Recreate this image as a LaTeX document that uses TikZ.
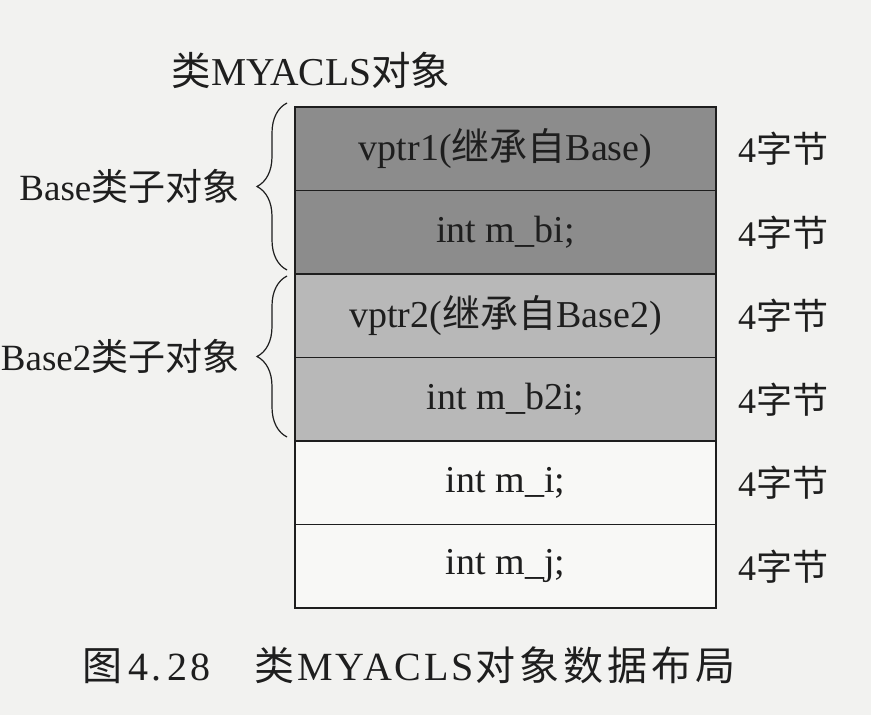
\documentclass[tikz,border=0pt]{standalone}
\usepackage{fontspec}
\setmainfont{Liberation Serif}
\newfontfamily\cjk{Noto Sans CJK SC}
\newfontfamily\capfont{Liberation Serif}[LetterSpace=7]
\newfontfamily\capcjk{Noto Sans CJK SC}[LetterSpace=10]
\newcommand{\zh}[1]{{\cjk #1}}
\newcommand{\capzh}[1]{{\capcjk #1}}
\usetikzlibrary{positioning, decorations.pathreplacing}

\definecolor{paper}{HTML}{F2F2F0}
\definecolor{cellDark}{HTML}{8C8C8C}
\definecolor{cellLight}{HTML}{B8B8B8}
\definecolor{cellPlain}{HTML}{F8F8F6}
\definecolor{ink}{HTML}{1E1E1E}

\tikzset{
  cell/.style={draw=ink, line width=1.8pt, minimum width=421pt, minimum height=83.5pt,
    inner sep=0pt, outer sep=0pt, text=ink, font=\fontsize{38}{42}\selectfont},
  sizelabel/.style={inner sep=0pt, text=ink, font=\fontsize{36}{40}\selectfont},
  grouplabel/.style={inner sep=0pt, text=ink, font=\fontsize{37}{41}\selectfont},
  grpbrace/.style={decorate, decoration={brace, amplitude=30pt}, line width=1.2pt, draw=ink},
}

\begin{document}
\begin{tikzpicture}[x=1pt, y=-1pt]
  \fill[paper] (0,0) rectangle (871,715);
  \useasboundingbox (0,0) rectangle (871,715);

  % object layout, top to bottom
  \node[cell, fill=cellDark] (vptrA) at (505.5,148.75) {vptr1(\zh{继承自}Base)};
  \node[cell, fill=cellDark, below=0pt of vptrA] (mbi) {int m\_bi;};
  \node[cell, fill=cellLight, below=0pt of mbi] (vptrB) {vptr2(\zh{继承自}Base2)};
  \node[cell, fill=cellLight, below=0pt of vptrB] (mbtwoi) {int m\_b2i;};
  \node[cell, fill=cellPlain, below=0pt of mbtwoi] (mi) {int m\_i;};
  \node[cell, fill=cellPlain, below=0pt of mi] (mj) {int m\_j;};

  % sizes
  \node[sizelabel, right=22pt of vptrA] (szA) {4\zh{字节}};
  \node[sizelabel, right=22pt of mbi] (szB) {4\zh{字节}};
  \node[sizelabel, right=22pt of vptrB] (szC) {4\zh{字节}};
  \node[sizelabel, right=22pt of mbtwoi] (szD) {4\zh{字节}};
  \node[sizelabel, right=22pt of mi] (szE) {4\zh{字节}};
  \node[sizelabel, right=22pt of mj] (szF) {4\zh{字节}};

  % sub-objects
  \draw[grpbrace] ([xshift=-8pt, yshift=4pt]mbi.south west) -- ([xshift=-8pt, yshift=4pt]vptrA.north west)
    node[grouplabel, midway, left=47pt] (baseA) {Base\zh{类子对象}};
  \draw[grpbrace] ([xshift=-8pt, yshift=4pt]mbtwoi.south west) -- ([xshift=-8pt, yshift=-2pt]vptrB.north west)
    node[grouplabel, midway, left=47pt] (baseB) {Base2\zh{类子对象}};

  \node[sizelabel, font=\fontsize{39.5}{43}\selectfont] (title) at (311,70) {\zh{类}MYACLS\zh{对象}};
  \node[sizelabel, anchor=west, font=\fontsize{40}{44}\selectfont] (caption) at (82,665)
    {\capzh{图}\hspace{6pt}{\capfont 4.\,28}\hspace{44pt}\capzh{类}\hspace{3pt}{\capfont MYACLS}\hspace{2pt}\capzh{对象数据布局}};
\end{tikzpicture}
\end{document}
